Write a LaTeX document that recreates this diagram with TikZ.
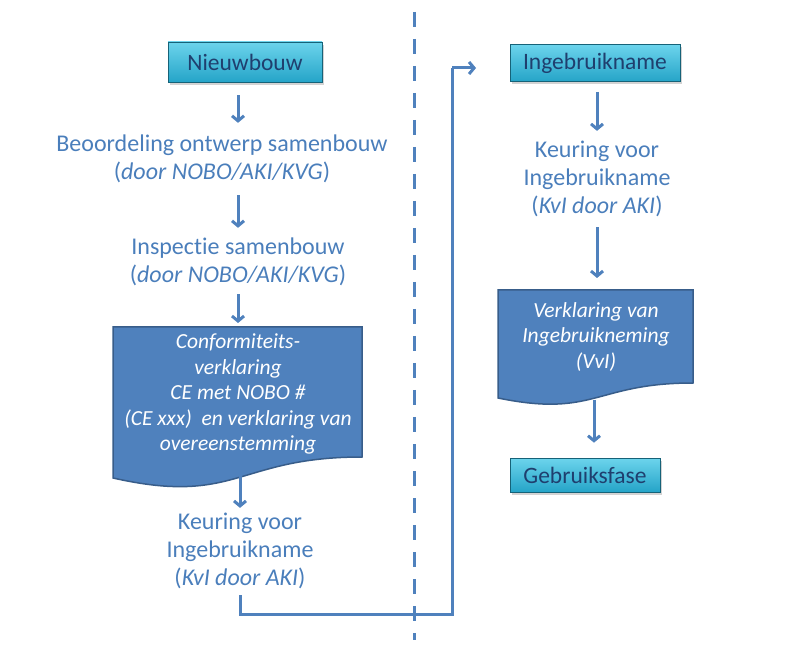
\documentclass[tikz,border=0pt]{standalone}
\usepackage{fontspec}
\setmainfont{Carlito}[Ligatures=CommonOff]
\usepackage{xcolor}
\usepackage{tikz}
\usetikzlibrary{positioning,calc,arrows.meta,shadows}
\definecolor{flowblue}{HTML}{4A7EBB}
\definecolor{flowline}{HTML}{4F81BD}
\definecolor{flowedge}{HTML}{385D8A}
\definecolor{flownavy}{HTML}{1F3F6E}
\definecolor{flowcyanlt}{HTML}{6CD4EC}
\definecolor{flowcyandk}{HTML}{25A4C8}

\begin{document}
\begin{tikzpicture}[x=1pt,y=-1pt,
    phase/.style={rectangle,draw=flowcyandk!60!black,line width=0.6pt,
                  top color=flowcyanlt,bottom color=flowcyandk,
                  text=flownavy,font=\fontsize{23.5}{28}\selectfont,
                  inner sep=0pt,
                  drop shadow={shadow xshift=2pt,shadow yshift=-3pt,opacity=0.35}},
    stepnote/.style={text=flowblue,align=center,inner sep=0pt,
                     font=\fontsize{24}{28}\selectfont},
    docbox/.style={fill=flowline,draw=flowedge,line width=1.5pt},
    doctext/.style={text=white,align=center,inner sep=0pt,
                    font=\fontsize{21.5}{25.5}\selectfont\itshape},
    arr/.style={draw=flowline,line width=3pt,
                -{Straight Barb[length=5pt,width=12pt]}},
    link/.style={draw=flowline,line width=3pt},
  ]
    \useasboundingbox (0,0) rectangle (801,660);

    % separator between the two phases
    \draw[link,dash pattern=on 15pt off 12pt] (414,12) -- (414,640);

    % left column: new construction
    \node[phase,minimum width=154pt,minimum height=40pt] (nieuw) at (245,62) {Nieuwbouw};
    \node[stepnote] (beoord) at (222,159) {Beoordeling ontwerp samenbouw\\(\textit{door NOBO/AKI/KVG})};
    \node[stepnote] (insp) at (238,262) {Inspectie samenbouw\\(\textit{door NOBO/AKI/KVG})};

    % declaration of conformity (document shape)
    \path[docbox] (113,327) -- (362,327) -- (362,457)
        .. controls (237,457) and (237,506) .. (113,478) -- cycle;
    \node[doctext] (conf) at (238,394) {Conformiteits-\\verklaring\\CE met NOBO \#\\(CE xxx)~~en verklaring van\\overeenstemming};
    \coordinate (conftop) at (238,327);
    \coordinate (confout) at (240,474);

    \node[stepnote] (kvi) at (240,551) {Keuring voor\\Ingebruikname\\(\textit{KvI door AKI})};

    % right column: taking into use
    \node[phase,minimum width=170pt,minimum height=37pt] (ingeb) at (595,63) {Ingebruikname};
    \node[stepnote] (kvir) at (597,179) {Keuring voor\\Ingebruikname\\(\textit{KvI door AKI})};

    \path[docbox] (498,290) -- (693,290) -- (693,383)
        .. controls (595,383) and (595,418) .. (498,398) -- cycle;
    \node[doctext] (vvi) at (596,337) {Verklaring van\\Ingebruikneming\\(VvI)};
    \coordinate (vvitop) at (597,290);
    \coordinate (vviout) at (594,400);

    \node[phase,minimum width=150pt,minimum height=34pt] (gebruik) at (585,475) {Gebruiksfase};

    % arrows
    \draw[arr,shorten <=13pt,shorten >=12pt] (nieuw.south -| insp) -- (beoord.north -| insp);
    \draw[arr,shorten <=12pt,shorten >=10pt] (beoord.south -| insp) -- (insp.north);
    \draw[arr,shorten <=8pt,shorten >=4pt] (insp.south) -- (conftop);
    \draw[arr,shorten >=5pt] (confout) -- (kvi.north -| confout);
    \draw[arr,shorten <=10pt,shorten >=10pt] (ingeb.south -| kvir) -- (kvir.north);
    \draw[arr,shorten <=10pt,shorten >=12pt] (kvir.south) -- (vvitop);
    \draw[arr,shorten >=15pt] (vviout) -- (gebruik.north -| vviout);

    % back to the start of the right column
    \coordinate (turn) at (452,614);
    \coordinate (entry) at (476,68);
    \draw[link] ([yshift=-6pt]kvi.south) |- (turn) -- (turn |- entry);
    \draw[arr] (turn |- entry) -- (entry);
  \end{tikzpicture}
\end{document}
